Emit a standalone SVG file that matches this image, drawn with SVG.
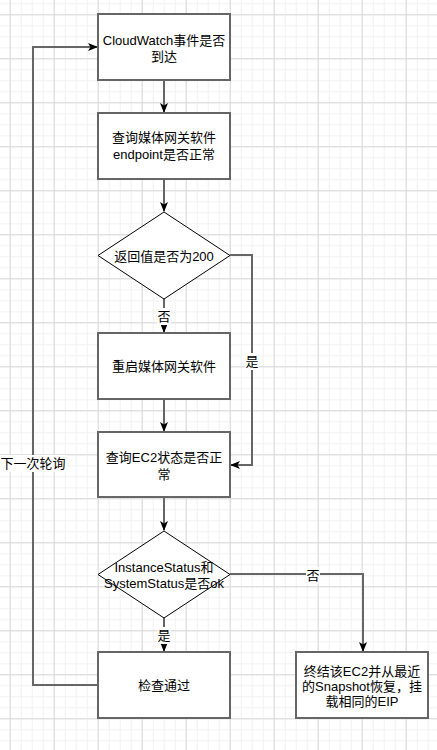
<svg xmlns="http://www.w3.org/2000/svg" width="437" height="750" viewBox="0 0 437 750">
  <style>
    .box { fill: #ffffff; stroke: #666666; stroke-width: 2; }
    .dia { fill: #ffffff; stroke: #000000; stroke-width: 1; }
    .edge { fill: none; stroke: #666666; stroke-width: 2; }
    text { font-family: "Liberation Sans", "Noto Sans CJK SC", sans-serif; font-size: 13px; fill: #000000; text-anchor: middle; dominant-baseline: central; }
    .lblbg { fill: #ffffff; }
  </style>
  <defs>
    <pattern id="minor" width="11" height="11" patternUnits="userSpaceOnUse" x="9.7" y="14.3">
      <path d="M0,0.5 H11 M0.5,0 V11" fill="none" stroke="#f1f1f1" stroke-width="1"/>
    </pattern>
    <pattern id="major" width="44" height="44" patternUnits="userSpaceOnUse" x="9.7" y="14.3">
      <path d="M0,0.5 H44 M0.5,0 V44" fill="none" stroke="#d9d9d9" stroke-width="1"/>
    </pattern>
    <marker id="arrow" viewBox="0 0 10 10" refX="9" refY="5" markerWidth="10" markerHeight="10" markerUnits="userSpaceOnUse" orient="auto">
      <path d="M0,1 L10,5 L0,9 L2.5,5 z" fill="#000000"/>
    </marker>
  </defs>
  <rect width="437" height="750" fill="#ffffff"/>
  <rect width="437" height="750" fill="url(#minor)"/>
  <rect width="437" height="750" fill="url(#major)"/>

  <g id="connectors">
    <path class="edge" d="M164,80 V112" marker-end="url(#arrow)"/>
    <path class="edge" d="M164,179 V211" marker-end="url(#arrow)"/>
    <path class="edge" d="M164,299 V332" marker-end="url(#arrow)"/>
    <path class="edge" d="M164,399 V431" marker-end="url(#arrow)"/>
    <path class="edge" d="M164,497 V530" marker-end="url(#arrow)"/>
    <path class="edge" d="M164,618 V651" marker-end="url(#arrow)"/>
    <path class="edge" d="M230,255 H252 V465 H231" marker-end="url(#arrow)"/>
    <path class="edge" d="M230,574 H363 V651" marker-end="url(#arrow)"/>
    <path class="edge" d="M98,685 H33 V47 H97" marker-end="url(#arrow)"/>
    <rect class="lblbg" x="157" y="308" width="14" height="17"/>
    <text x="164" y="316">否</text>
    <rect class="lblbg" x="245" y="353" width="14" height="17"/>
    <text x="252" y="361">是</text>
    <rect class="lblbg" x="306" y="567" width="14" height="17"/>
    <text x="313" y="575">否</text>
    <rect class="lblbg" x="157" y="627" width="14" height="17"/>
    <text x="164" y="635">是</text>
    <rect class="lblbg" x="0" y="455" width="67" height="17"/>
    <text x="33" y="463">下一次轮询</text>
  </g>

  <g id="n1">
    <rect class="box" x="98" y="14" width="132" height="66"/>
    <text x="164" y="40">CloudWatch事件是否</text>
    <text x="164" y="56">到达</text>
  </g>
  <g id="n2">
    <rect class="box" x="98" y="113" width="132" height="66"/>
    <text x="164" y="137">查询媒体网关软件</text>
    <text x="164" y="154">endpoint是否正常</text>
  </g>
  <g id="n3">
    <path class="dia" d="M164,212 L230,255.5 L164,299 L98,255.5 Z"/>
    <text x="164" y="256">返回值是否为200</text>
  </g>
  <g id="n4">
    <rect class="box" x="98" y="333" width="132" height="66"/>
    <text x="164" y="366">重启媒体网关软件</text>
  </g>
  <g id="n5">
    <rect class="box" x="98" y="432" width="132" height="65"/>
    <text x="164" y="457">查询EC2状态是否正</text>
    <text x="164" y="474">常</text>
  </g>
  <g id="n6">
    <path class="dia" d="M164,531 L230,574.5 L164,618 L98,574.5 Z"/>
    <text x="164" y="567">InstanceStatus和</text>
    <text x="164" y="583">SystemStatus是否ok</text>
  </g>
  <g id="n7">
    <rect class="box" x="98" y="652" width="132" height="66"/>
    <text x="164" y="685">检查通过</text>
  </g>
  <g id="n8">
    <rect class="box" x="296" y="652" width="132" height="66"/>
    <text x="362" y="671">终结该EC2并从最近</text>
    <text x="362" y="686">的Snapshot恢复，挂</text>
    <text x="362" y="701">载相同的EIP</text>
  </g>
</svg>
